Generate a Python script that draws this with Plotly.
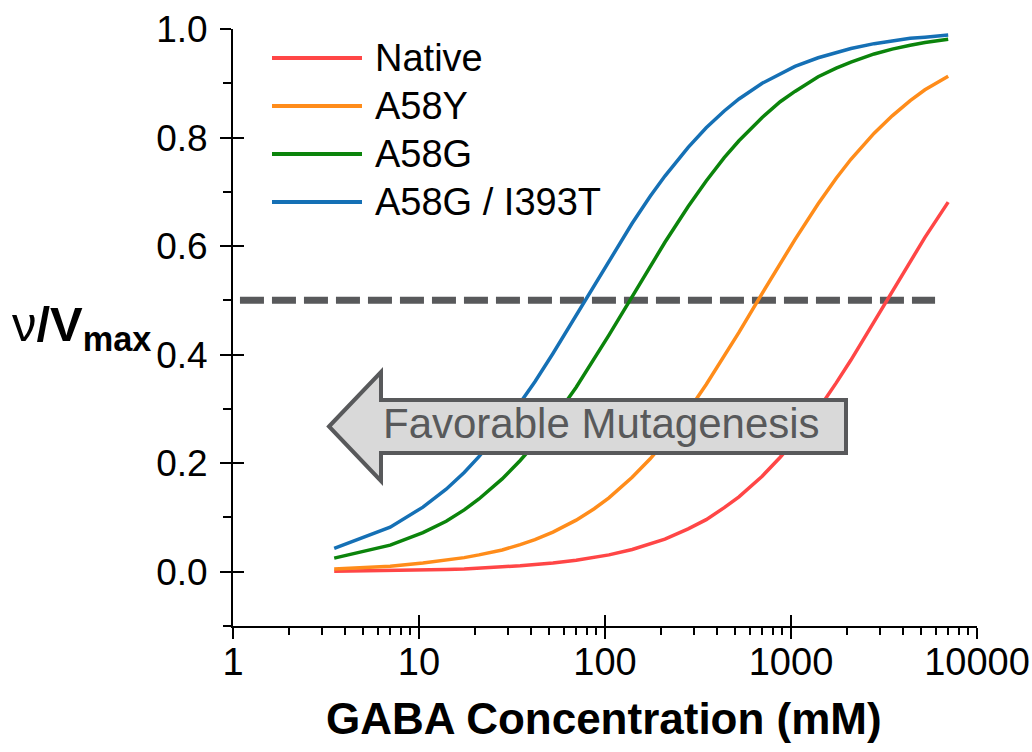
import plotly.graph_objects as go

# ---------------- data ----------------
conc = [3.5, 7, 10.5, 14, 17.5, 21, 28, 35, 42, 52.5, 70, 87.5, 105, 140, 175,
        210, 280, 350, 437.5, 525, 700, 875, 1050, 1400, 1750, 2100, 2800,
        3500, 4375, 5250, 7000]

series_names = ["Native", "A58Y", "A58G", "A58G / I393T"]

native = [0.001, 0.002, 0.003, 0.004, 0.005, 0.006, 0.009, 0.011, 0.013, 0.016,
          0.021, 0.026, 0.031, 0.041, 0.051, 0.060, 0.079, 0.096, 0.118, 0.138,
          0.176, 0.211, 0.243, 0.299, 0.348, 0.390, 0.461, 0.516, 0.572, 0.616,
          0.681]
a58y = [0.005, 0.010, 0.016, 0.021, 0.026, 0.031, 0.040, 0.050, 0.059, 0.073,
        0.095, 0.116, 0.136, 0.174, 0.208, 0.240, 0.296, 0.345, 0.397, 0.441,
        0.513, 0.568, 0.612, 0.678, 0.725, 0.760, 0.808, 0.840, 0.868, 0.888,
        0.913]
a58g = [0.025, 0.049, 0.072, 0.093, 0.114, 0.134, 0.171, 0.205, 0.236, 0.279,
        0.340, 0.392, 0.436, 0.507, 0.563, 0.607, 0.673, 0.720, 0.763, 0.794,
        0.837, 0.866, 0.885, 0.912, 0.928, 0.939, 0.954, 0.963, 0.970, 0.975,
        0.981]
a58g_i393t = [0.043, 0.082, 0.119, 0.152, 0.183, 0.212, 0.264, 0.310, 0.350,
              0.402, 0.473, 0.529, 0.574, 0.642, 0.692, 0.729, 0.782, 0.818,
              0.849, 0.871, 0.900, 0.918, 0.931, 0.947, 0.957, 0.964, 0.973,
              0.978, 0.983, 0.985, 0.989]

half_x = [1.09, 5950]
half_y = [0.5, 0.5]

x_ticks = [1, 10, 100, 1000, 10000]
x_labels = ["1", "10", "100", "1000", "10000"]
y_ticks = [0.0, 0.2, 0.4, 0.6, 0.8, 1.0]
y_labels = ["0.0", "0.2", "0.4", "0.6", "0.8", "1.0"]

arrow_text = "Favorable Mutagenesis"
x_title = "GABA Concentration (mM)"

# ---------------- styling ----------------
colors = ["#FF4646", "#FF8C1A", "#0B840B", "#1570B5"]
GREY = "#58595B"
FONT = "Liberation Sans, Arial, Helvetica, sans-serif"

W, H = 1032, 752
L, R, T, B = 233, 977, 29, 626


def px(x):
    return (x - L) / (R - L)


def py(y):
    return (B - y) / (B - T)


fig = go.Figure()

fig.add_trace(go.Scatter(x=half_x, y=half_y, mode="lines", showlegend=False,
                         hoverinfo="skip",
                         line=dict(color=GREY, width=7, dash="24px,8px")))

all_series = [native, a58y, a58g, a58g_i393t]
for name, vals, col in zip(series_names, all_series, colors):
    fig.add_trace(go.Scatter(x=conc, y=vals, mode="lines", name=name,
                             showlegend=False,
                             line=dict(color=col, width=3.5)))

# empty trace for the overlay axes (inward half of the crossing ticks)
fig.add_trace(go.Scatter(x=[], y=[], xaxis="x2", yaxis="y2", showlegend=False,
                         hoverinfo="skip"))

axis_common = dict(showgrid=False, zeroline=False, automargin=False)

fig.update_layout(
    width=W, height=H,
    margin=dict(l=L, r=W - R, t=T, b=H - B, autoexpand=False),
    paper_bgcolor="white", plot_bgcolor="white",
    font=dict(family=FONT, color="black", size=38),
    xaxis=dict(type="log", range=[0, 4], tickmode="array", tickvals=x_ticks,
               ticktext=x_labels, ticks="outside", ticklen=11, tickwidth=2,
               tickcolor="black", showline=True, linewidth=2, linecolor="black",
               tickfont=dict(size=38, family=FONT), ticklabelstandoff=-10,
               minor=dict(ticks="outside", ticklen=7, tickwidth=2,
                          tickcolor="black", dtick="D1", showgrid=False),
               **axis_common),
    yaxis=dict(range=[-0.1, 1.0], tickmode="array", tickvals=y_ticks,
               ticktext=y_labels, ticks="outside", ticklen=11, tickwidth=2,
               tickcolor="black", showline=True, linewidth=2, linecolor="black",
               tickfont=dict(size=37, family=FONT), ticklabelstandoff=5,
               minor=dict(ticks="outside", ticklen=8, tickwidth=2,
                          tickcolor="black", dtick=0.1, tick0=0,
                          showgrid=False),
               **axis_common),
    xaxis2=dict(type="log", range=[0, 4], overlaying="x", anchor="y",
                side="bottom", tickmode="array", tickvals=x_ticks,
                ticks="inside", ticklen=11, tickwidth=2, tickcolor="black",
                showticklabels=False, showline=False, **axis_common),
    yaxis2=dict(range=[-0.1, 1.0], overlaying="y", anchor="x", side="left",
                tickmode="array", tickvals=y_ticks, ticks="inside",
                ticklen=11, tickwidth=2, tickcolor="black",
                showticklabels=False, showline=False, **axis_common),
)

# arrow
pts = [(329, 426.5), (381, 372), (381, 400), (846, 400), (846, 453),
       (381, 453), (381, 481)]
path = "M " + " L ".join(f"{px(a):.5f},{py(b):.5f}" for a, b in pts) + " Z"
fig.add_shape(type="path", path=path, xref="paper", yref="paper",
              fillcolor="#D9D9D9", line=dict(color=GREY, width=4),
              layer="above")
fig.add_annotation(x=px(601), y=py(424), xref="paper", yref="paper",
                   text=arrow_text, showarrow=False, xanchor="center",
                   yanchor="middle", font=dict(size=42, color=GREY, family=FONT))

# legend (drawn manually to match long sample lines)
leg_y = [58, 106, 154, 202]
for name, col, yy in zip(series_names, colors, leg_y):
    fig.add_shape(type="line", xref="paper", yref="paper",
                  x0=px(272), x1=px(362), y0=py(yy), y1=py(yy),
                  line=dict(color=col, width=4), layer="above")
    fig.add_annotation(x=px(373), y=py(yy), xref="paper", yref="paper",
                       text=name, showarrow=False, xanchor="left",
                       yanchor="middle", font=dict(size=38, family=FONT))

# axis titles
fig.add_annotation(x=px(153), y=py(327), xref="paper", yref="paper",
                   text="ν<b>/V<sub>max</sub></b>", showarrow=False,
                   xanchor="right", yanchor="middle",
                   font=dict(size=49, family=FONT))
fig.add_annotation(x=px(604), y=py(718), xref="paper", yref="paper",
                   text=f"<b>{x_title}</b>", showarrow=False,
                   xanchor="center", yanchor="middle",
                   font=dict(size=44, family=FONT))

fig.write_html("out.html")
